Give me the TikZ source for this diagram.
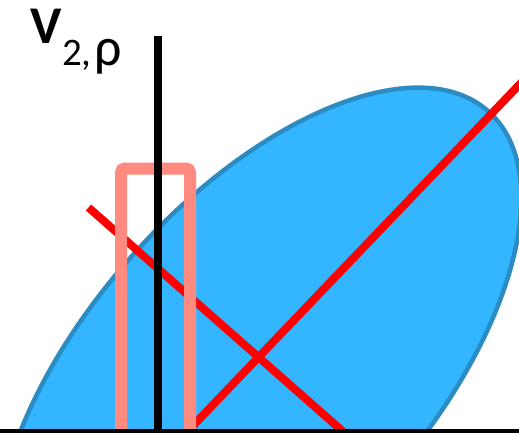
\documentclass[tikz,border=0pt]{standalone}
\usepackage{fontspec}
\setmainfont{Carlito}
\definecolor{skyfill}{HTML}{33B5FF}
\definecolor{skyedge}{HTML}{2B8CC4}
\definecolor{salmonc}{HTML}{FF8A80}
\begin{document}
\begin{tikzpicture}[x=1pt,y=-1pt,
  blob/.style={fill=skyfill,draw=skyedge,line width=4.5pt},
  redline/.style={draw=red,line width=8pt,line cap=butt},
  windowbox/.style={draw=salmonc,line width=12pt,rounded corners=4pt},
  blackline/.style={draw=black,line width=8pt,line cap=butt},
  baseline/.style={draw=black,line width=5pt},
  lab/.style={inner sep=0pt,anchor=base west}]
\useasboundingbox (0,0) rectangle (519,433);
\clip (0,0) rectangle (519,433);
% ellipse
\coordinate (c) at (259,369);
\draw[blob, rotate around={48.3:(c)}] (c) ellipse [x radius=345, y radius=170];
% red axes
\coordinate (r1a) at (88.5,207.5);
\coordinate (r1b) at (352.6,440);
\coordinate (r2a) at (179.3,440);
\coordinate (r2b) at (530,73.5);
\draw[redline] (r1a) -- (r1b);
\draw[redline] (r2a) -- (r2b);
% salmon window
\coordinate (wl) at (121,445);
\coordinate (wtl) at (121,168.5);
\coordinate (wtr) at (190,168.5);
\coordinate (wr) at (190,445);
\draw[windowbox] (wl) -- (wtl) -- (wtr) -- (wr);
% black axes
\coordinate (vt) at (158,36);
\coordinate (vb) at (158,440);
\draw[blackline] (vt) -- (vb);
\coordinate (hl) at (-5,431.5);
\coordinate (hr) at (525,431.5);
\draw[baseline] (hl) -- (hr);
% label
\node[lab] (v) at (30.5,43.3) {\fontsize{53}{53}\selectfont\bfseries V};
\node[lab] (sub) at (62,66) {\fontsize{39}{39}\selectfont 2,};
\node[lab] (rho) at (94,66) {\fontsize{54}{54}\selectfont ρ};
\end{tikzpicture}
\end{document}
